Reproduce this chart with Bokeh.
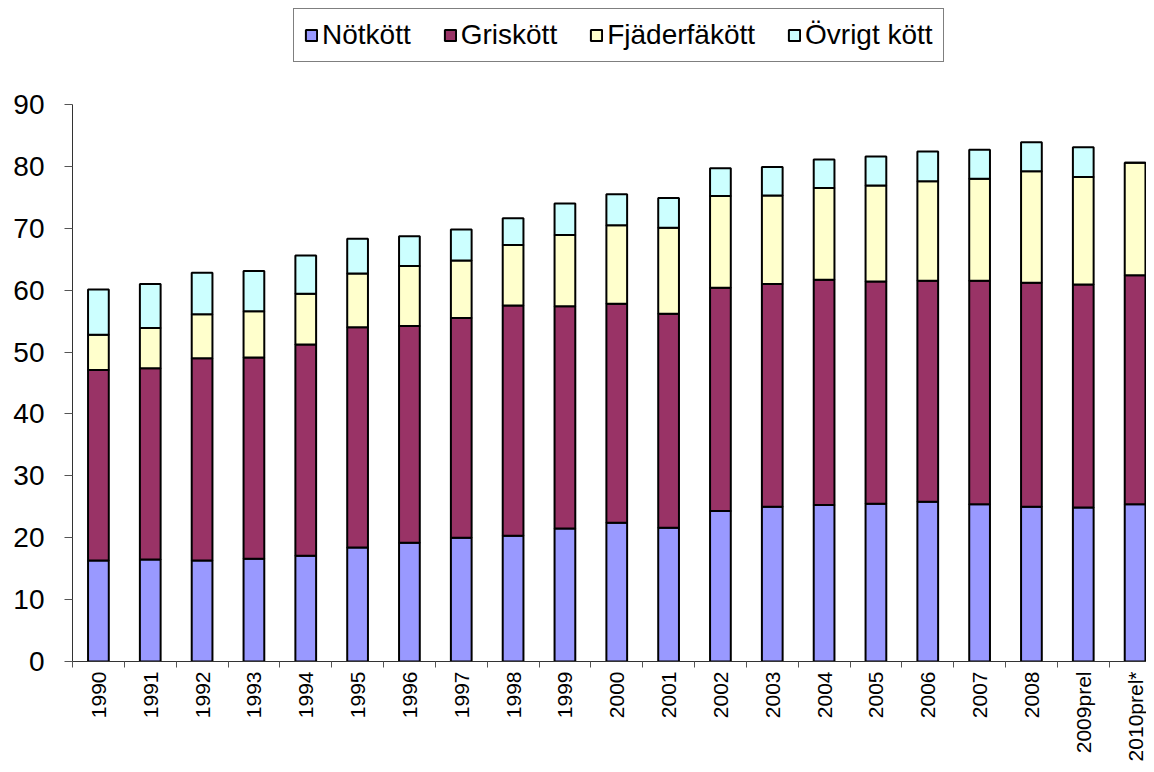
import math
from bokeh.plotting import figure
from bokeh.models import ColumnDataSource, Range1d, FixedTicker, Legend, LegendItem
from bokeh.embed import file_html
from bokeh.resources import INLINE

years = ["1990", "1991", "1992", "1993", "1994", "1995", "1996", "1997", "1998", "1999",
         "2000", "2001", "2002", "2003", "2004", "2005", "2006", "2007", "2008",
         "2009prel", "2010prel*"]
notkott = [16.3, 16.5, 16.3, 16.6, 17.1, 18.4, 19.2, 20.0, 20.3, 21.5,
           22.4, 21.6, 24.3, 25.0, 25.3, 25.5, 25.8, 25.4, 25.0, 24.9, 25.4]
griskott = [30.8, 30.9, 32.7, 32.5, 34.1, 35.6, 35.0, 35.5, 37.2, 35.9,
            35.4, 34.6, 36.1, 36.0, 36.4, 35.9, 35.7, 36.1, 36.2, 36.0, 37.0]
fjaderfakott = [5.7, 6.5, 7.1, 7.5, 8.2, 8.7, 9.7, 9.3, 9.8, 11.5,
                12.7, 13.9, 14.8, 14.3, 14.8, 15.5, 16.1, 16.5, 18.0, 17.4, 18.2]
ovrigt_kott = [7.3, 7.1, 6.7, 6.5, 6.2, 5.6, 4.8, 5.0, 4.3, 5.1,
               5.0, 4.8, 4.5, 4.6, 4.6, 4.7, 4.8, 4.7, 4.7, 4.8, 0.0]
series_names = ["Nötkött", "Griskött", "Fjäderfäkött", "Övrigt kött"]
y_ticks = [0, 10, 20, 30, 40, 50, 60, 70, 80, 90]

colors = ["#9999FF", "#993366", "#FFFFCC", "#CCFFFF"]
FONT = "Liberation Sans"

xs = list(range(len(years)))
source = ColumnDataSource(dict(x=xs, notk=notkott, gris=griskott,
                               fjader=fjaderfakott, ovrigt=ovrigt_kott))

p = figure(width=1146, height=764, output_backend="svg", toolbar_location=None, title=None,
           x_range=Range1d(-0.5, 20.22), y_range=Range1d(0, 106.8),
           min_border_left=72, min_border_top=0, min_border_right=0, min_border_bottom=0)

rs = p.vbar_stack(["notk", "gris", "fjader", "ovrigt"], x="x", width=0.4,
                  fill_color=colors, line_color="black", line_width=2, source=source)

p.xgrid.visible = False
p.ygrid.visible = False
p.outline_line_color = None
p.background_fill_color = "white"

xa = p.xaxis[0]
xa.ticker = FixedTicker(ticks=xs, minor_ticks=[i - 0.5 for i in range(len(years))])
xa.major_label_overrides = {i: years[i] for i in xs}
xa.major_label_orientation = math.pi / 2
xa.major_tick_out = 0
xa.major_tick_in = 0
xa.minor_tick_out = 6
xa.minor_tick_in = 0
xa.minor_tick_line_color = "#555555"
xa.axis_line_color = "#333333"
xa.major_label_standoff = 4
xa.major_label_text_font = FONT
xa.major_label_text_font_size = "21px"
xa.major_label_text_color = "black"

ya = p.yaxis[0]
ya.ticker = FixedTicker(ticks=y_ticks)
ya.bounds = (0, 90)
ya.major_tick_out = 8
ya.major_tick_in = 0
ya.minor_tick_line_color = None
ya.major_tick_line_color = "#555555"
ya.axis_line_color = "#333333"
ya.major_label_standoff = 20
ya.major_label_text_font = FONT
ya.major_label_text_font_size = "28px"
ya.major_label_text_color = "black"

legend = Legend(items=[LegendItem(label=n, renderers=[r]) for n, r in zip(series_names, rs)],
                orientation="horizontal", location=(221, 599),
                border_line_color="black", border_line_width=1,
                label_text_font=FONT, label_text_font_size="28px", label_text_color="black",
                glyph_width=14, glyph_height=14, label_standoff=4,
                spacing=32, padding=10, margin=0)
p.add_layout(legend, "center")

open("out.html", "w").write(file_html(p, INLINE))
